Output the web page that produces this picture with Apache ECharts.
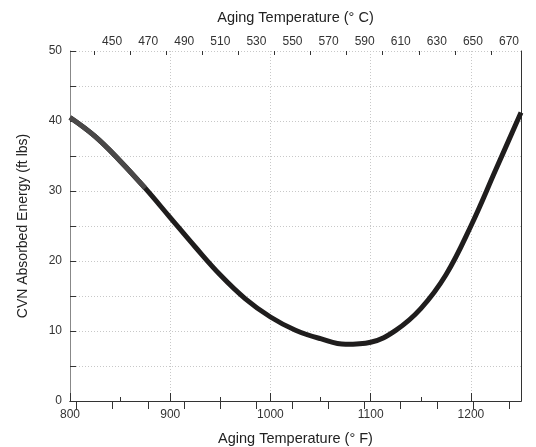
<!DOCTYPE html>
<html>
<head>
<meta charset="UTF-8"/>
<title></title>
<script src="https://cdn.jsdelivr.net/npm/echarts@6/dist/echarts.min.js"></script>
<style>
body { margin: 0; background: #fff; }
#placeholder { width: 536px; height: 447px; }
</style>
</head>
<body>
<div id="placeholder"></div>
<script type="text/javascript">
// aging temperature (F) and CVN energy
var tempF = [800, 825, 850, 875, 900, 925, 950, 975, 1000, 1025, 1050, 1075, 1100, 1125, 1150, 1175, 1200, 1225, 1250];
var energy = [40.5, 37.8, 34.3, 30.4, 26.2, 22.0, 18.0, 14.6, 12.0, 10.1, 8.9, 8.1, 8.4, 10.1, 13.2, 18.0, 25.0, 33.1, 41.2];
// first part of the curve is drawn a bit lighter
var lightUpTo = 875;

var fLabels = [800, 900, 1000, 1100, 1200];
var fMinor = [850, 950, 1050, 1150];
var cMajor = [430, 450, 470, 490, 510, 530, 550, 570, 590, 610, 630, 650, 670];
var cLabels = [450, 470, 490, 510, 530, 550, 570, 590, 610, 630, 650, 670];
var cMinor = [440, 460, 480, 500, 520, 540, 560, 580, 600, 620, 640, 660];

var fMin = 800, fMax = 1250;
function toC(f) { return (f - 32) * 5 / 9; }
function plain(v) { return String(v); }

var pts = [], lightPts = [];
for (var i = 0; i < tempF.length; i++) {
	pts.push([tempF[i], energy[i]]);
	if (tempF[i] <= lightUpTo) lightPts.push([tempF[i], energy[i]]);
}

var font = 'Liberation Sans, Arial, sans-serif';
var gridBox = { left: 70, right: 15, top: 51, bottom: 46, outerBoundsMode: 'none' };

var myChart = echarts.init(document.getElementById('placeholder'));
var option = {
	animation: false,
	grid: [gridBox, echarts.util.clone(gridBox)],
	xAxis: [
		{
			type: 'value', gridIndex: 0, position: 'bottom',
			min: fMin, max: fMax, interval: 50,
			name: 'Aging Temperature (\u00B0 F)', nameLocation: 'middle', nameGap: 30,
			nameTextStyle: { fontSize: 14.5, color: '#222', fontFamily: font },
			axisLine: { lineStyle: { color: '#333', width: 1 } },
			axisTick: { inside: true, length: 8, customValues: fLabels, lineStyle: { color: '#333' } },
			axisLabel: { customValues: fLabels, formatter: plain, fontSize: 12, color: '#333', fontFamily: font, margin: 8 },
			splitLine: { show: true, lineStyle: { color: '#c8c8c8', type: [1, 2], width: 1 } }
		},
		{
			type: 'value', gridIndex: 0, position: 'top',
			min: toC(fMin), max: toC(fMax),
			name: 'Aging Temperature (\u00B0 C)', nameLocation: 'middle', nameGap: 26,
			nameTextStyle: { fontSize: 14.5, color: '#222', fontFamily: font },
			axisLine: { lineStyle: { color: '#333', width: 1 } },
			axisTick: { inside: true, length: 8, customValues: cMajor, lineStyle: { color: '#333' } },
			axisLabel: { customValues: cLabels, formatter: plain, fontSize: 12, color: '#333', fontFamily: font, margin: 3 },
			splitLine: { show: false }
		},
		{
			type: 'value', gridIndex: 1, position: 'bottom',
			min: fMin, max: fMax,
			axisLine: { show: false },
			axisTick: { inside: true, length: 4, customValues: fMinor, lineStyle: { color: '#333' } },
			axisLabel: { show: false },
			splitLine: { show: false }
		},
		{
			type: 'value', gridIndex: 1, position: 'top',
			min: toC(fMin), max: toC(fMax),
			axisLine: { show: false },
			axisTick: { inside: true, length: 4, customValues: cMinor, lineStyle: { color: '#333' } },
			axisLabel: { show: false },
			splitLine: { show: false }
		}
	],
	yAxis: [
		{
			type: 'value', gridIndex: 0, position: 'left',
			min: 0, max: 50, interval: 5,
			name: 'CVN Absorbed Energy (ft lbs)', nameLocation: 'middle', nameGap: 40,
			nameTextStyle: { fontSize: 14, color: '#222', fontFamily: font },
			axisLine: { lineStyle: { color: '#888', width: 1 } },
			axisTick: { inside: true, length: 6, lineStyle: { color: '#333' } },
			axisLabel: {
				fontSize: 12, color: '#333', fontFamily: font, margin: 8,
				formatter: function (v) { return v % 10 === 0 ? v : ''; }
			},
			splitLine: { show: true, lineStyle: { color: '#c8c8c8', type: [1, 2], width: 1 } }
		},
		{
			type: 'value', gridIndex: 0, position: 'right',
			min: 0, max: 50,
			axisLine: { show: true, lineStyle: { color: '#333', width: 1 } },
			axisTick: { show: false },
			axisLabel: { show: false },
			splitLine: { show: false }
		},
		{
			type: 'value', gridIndex: 1, min: 0, max: 50, show: false
		}
	],
	series: [
		{
			type: 'line', xAxisIndex: 0, yAxisIndex: 0,
			data: pts, smooth: 0.4, showSymbol: false,
			lineStyle: { color: '#1f1d1d', width: 5 }, z: 3
		},
		{
			type: 'line', xAxisIndex: 0, yAxisIndex: 0,
			data: lightPts, smooth: 0.4, showSymbol: false,
			lineStyle: { color: '#4a4848', width: 5 }, z: 4
		}
	]
};
myChart.setOption(option, true);
</script>
</body>
</html>
